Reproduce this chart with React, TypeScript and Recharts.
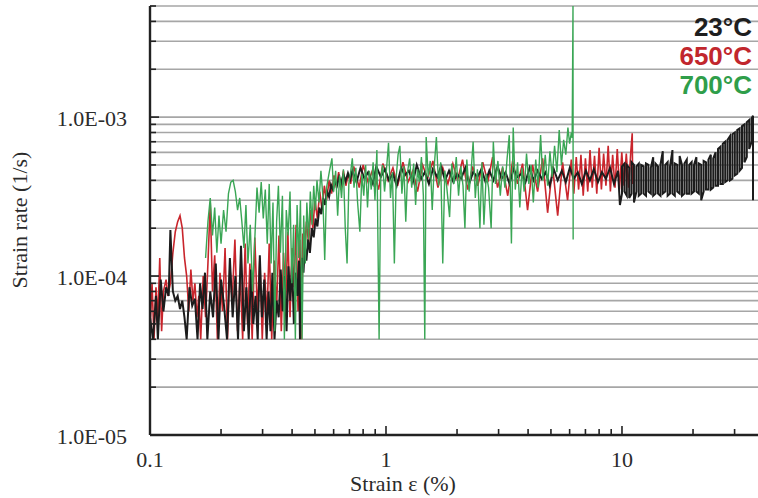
import React from "react";
import { LineChart, Line, XAxis, YAxis, CartesianGrid } from "recharts";

// strain in %, rate in units of 1e-4 1/s
const RATE_UNIT = 1e-4;

const xTicks = [0.1, 0.2, 0.3, 0.4, 0.5, 0.6, 0.7, 0.8, 0.9, 1, 2, 3, 4, 5, 6, 7, 8, 9, 10, 20, 30];
const xLabels: Record<string, string> = { "0.1": "0.1", "1": "1", "10": "10" };

const yTicks = [
  1e-5, 2e-5, 3e-5, 4e-5, 5e-5, 6e-5, 7e-5, 8e-5, 9e-5,
  1e-4, 2e-4, 3e-4, 4e-4, 5e-4, 6e-4, 7e-4, 8e-4, 9e-4,
  1e-3, 2e-3, 3e-3, 4e-3, 5e-3,
];
const yLabels: Record<string, string> = { "0.00001": "1.0E-05", "0.0001": "1.0E-04", "0.001": "1.0E-03" };

const legendItems = [
  { label: "23°C", color: "#1e1e1e" },
  { label: "650°C", color: "#c1272d" },
  { label: "700°C", color: "#2f9e4a" },
];

const rate650: [number, number][] = [
  [0.100, 0.45], [0.102, 0.90], [0.104, 0.40], [0.106, 0.85], [0.108, 0.55], [0.110, 1.30], [0.112, 0.45],
  [0.114, 0.80], [0.117, 0.95], [0.119, 0.75], [0.122, 0.90], [0.125, 1.40], [0.128, 1.90], [0.131, 2.20],
  [0.134, 2.40], [0.137, 2.00], [0.140, 1.30], [0.143, 1.00], [0.146, 0.60], [0.149, 1.10], [0.152, 0.70],
  [0.155, 0.90], [0.158, 0.55], [0.161, 0.75], [0.164, 0.40], [0.168, 1.00], [0.172, 0.55], [0.176, 1.20],
  [0.180, 2.90], [0.184, 0.80], [0.188, 1.35], [0.193, 0.40], [0.198, 1.05], [0.203, 0.60], [0.208, 1.50],
  [0.213, 0.40], [0.218, 1.15], [0.223, 0.70], [0.229, 1.70], [0.235, 0.45], [0.241, 1.00], [0.247, 0.40],
  [0.253, 1.60], [0.259, 0.50], [0.265, 1.20], [0.271, 0.40], [0.278, 1.75], [0.285, 0.60], [0.292, 1.30],
  [0.299, 0.40], [0.306, 1.05], [0.313, 0.55], [0.320, 1.60], [0.328, 0.40], [0.336, 1.25], [0.344, 0.65],
  [0.352, 1.80], [0.360, 0.45], [0.368, 1.40], [0.376, 0.70], [0.384, 1.90], [0.392, 0.55], [0.400, 1.50],
  [0.408, 0.85], [0.416, 2.10], [0.424, 0.60], [0.432, 1.70], [0.438, 0.40], [0.444, 1.85], [0.452, 1.40],
  [0.460, 2.20], [0.470, 1.60], [0.480, 2.60], [0.490, 2.00], [0.500, 3.00], [0.512, 2.30], [0.524, 3.40],
  [0.536, 2.60], [0.548, 3.70], [0.560, 3.00], [0.574, 4.00], [0.588, 3.30], [0.602, 4.30], [0.616, 3.60],
  [0.630, 4.50], [0.645, 3.50], [0.660, 4.60], [0.676, 3.70], [0.692, 4.40], [0.708, 3.80],
  [0.73, 4.9], [0.77, 3.6], [0.80, 5.0], [0.84, 3.9], [0.88, 4.7], [0.93, 3.5], [0.97, 5.1], [1.02, 4.0],
  [1.07, 4.8], [1.12, 3.7], [1.18, 5.2], [1.24, 3.9], [1.30, 4.6], [1.36, 3.4], [1.43, 5.0], [1.50, 4.1],
  [1.58, 5.3], [1.66, 3.6], [1.74, 4.8], [1.83, 3.8], [1.92, 5.1], [2.01, 4.0], [2.11, 5.4], [2.22, 3.5],
  [2.33, 4.9], [2.45, 3.7], [2.57, 5.2], [2.70, 3.9], [2.83, 5.6], [2.97, 3.6], [3.12, 4.8], [3.28, 3.2],
  [3.44, 5.3], [3.61, 3.8], [3.79, 5.1], [3.98, 2.6], [4.18, 5.0], [4.39, 3.4], [4.61, 5.5], [4.84, 2.5],
  [5.08, 4.9], [5.34, 2.4], [5.60, 5.2], [5.88, 3.0], [6.10, 5.4], [6.25, 3.3], [6.40, 5.6], [6.55, 3.5],
  [6.70, 5.8], [6.85, 3.2], [7.00, 5.5], [7.16, 3.4], [7.32, 6.2], [7.48, 3.6], [7.65, 5.7], [7.82, 3.3],
  [8.00, 6.4], [8.18, 3.5], [8.36, 5.9], [8.55, 3.7], [8.74, 6.6], [8.93, 3.4], [9.13, 5.8], [9.34, 3.6],
  [9.55, 6.3], [9.76, 3.5], [9.98, 6.0], [10.20, 3.7], [10.43, 5.9], [10.66, 3.6], [10.90, 6.1], [11.05, 7.9],
  [11.10, 3.8],
];

const rate23: [number, number][] = [
  [0.100, 0.55], [0.103, 0.40], [0.106, 0.75], [0.108, 0.40], [0.111, 0.95], [0.114, 0.60], [0.117, 0.85],
  [0.120, 0.75], [0.122, 1.95], [0.125, 0.80], [0.128, 0.70], [0.131, 0.75], [0.134, 0.62], [0.137, 0.70],
  [0.140, 0.55], [0.143, 0.40], [0.147, 0.85], [0.151, 0.65], [0.155, 0.72], [0.159, 0.40], [0.163, 0.90],
  [0.167, 0.62], [0.171, 1.05], [0.175, 0.40], [0.180, 0.80], [0.185, 0.55], [0.190, 1.20], [0.195, 0.40],
  [0.200, 0.95], [0.206, 0.65], [0.212, 0.40], [0.218, 1.30], [0.224, 0.55], [0.230, 1.00], [0.236, 0.40],
  [0.243, 1.55], [0.250, 0.45], [0.256, 0.85], [0.262, 0.40], [0.268, 1.10], [0.274, 0.50], [0.280, 0.75],
  [0.286, 0.40], [0.292, 1.35], [0.298, 0.55], [0.305, 0.95], [0.312, 0.40], [0.318, 0.80], [0.324, 0.45],
  [0.330, 1.05], [0.337, 0.40], [0.344, 0.70], [0.351, 0.55], [0.358, 1.10], [0.365, 0.60], [0.372, 1.00],
  [0.379, 0.45], [0.386, 1.15], [0.393, 0.70], [0.400, 1.20], [0.407, 0.50], [0.414, 1.05], [0.421, 0.75],
  [0.428, 1.25], [0.432, 0.40], [0.436, 1.10], [0.441, 1.30], [0.447, 1.05], [0.453, 1.55], [0.460, 1.25],
  [0.468, 1.70], [0.476, 1.40], [0.485, 2.00], [0.494, 1.75], [0.503, 2.30], [0.512, 2.05], [0.522, 2.70],
  [0.532, 2.45], [0.542, 3.10], [0.552, 2.80], [0.563, 3.40], [0.574, 3.15], [0.585, 3.75], [0.596, 3.50],
  [0.608, 3.95], [0.620, 3.70], [0.633, 4.20], [0.646, 3.85], [0.660, 4.35], [0.674, 3.95], [0.690, 4.45],
  [0.705, 4.05],
  [0.72, 4.6], [0.75, 3.9], [0.78, 4.8], [0.81, 4.1], [0.84, 4.5], [0.88, 3.8], [0.91, 4.9], [0.95, 4.2],
  [0.99, 4.7], [1.03, 4.0], [1.07, 4.4], [1.11, 3.7], [1.16, 4.8], [1.20, 4.3], [1.25, 4.6], [1.30, 3.9],
  [1.35, 5.0], [1.41, 4.1], [1.46, 4.5], [1.52, 3.8], [1.58, 4.7], [1.65, 4.2], [1.71, 4.9], [1.78, 4.0],
  [1.85, 4.6], [1.93, 3.9], [2.00, 4.4], [2.08, 4.1], [2.17, 4.8], [2.25, 3.8], [2.34, 4.5], [2.44, 4.2],
  [2.54, 4.7], [2.64, 3.9], [2.74, 4.6], [2.85, 4.0], [2.97, 4.9], [3.09, 4.1], [3.21, 4.5], [3.34, 3.8],
  [3.47, 4.7], [3.61, 4.2], [3.75, 4.4], [3.90, 3.9], [4.06, 4.8], [4.22, 4.0], [4.39, 4.6], [4.57, 4.1],
  [4.75, 4.5], [4.94, 3.7], [5.14, 4.7], [5.34, 4.0], [5.56, 4.6], [5.78, 3.9], [6.01, 4.8], [6.25, 4.1],
  [6.50, 4.5], [6.76, 3.8], [7.03, 4.6], [7.31, 4.0], [7.60, 4.7], [7.91, 3.9], [8.22, 4.5], [8.55, 4.1],
  [8.90, 4.8], [9.25, 3.8], [9.62, 4.6], [9.80, 2.8],
  [10.00, 3.3], [10.00, 4.9], [10.24, 5.1], [10.24, 3.4], [10.48, 3.2], [10.48, 5.0], [10.73, 4.8], [10.73, 3.1],
  [10.98, 3.3], [10.98, 5.2], [11.24, 5.0], [11.24, 2.9], [11.51, 3.4], [11.51, 4.9], [11.78, 5.1], [11.78, 3.2],
  [12.06, 3.3], [12.06, 5.0], [12.35, 4.9], [12.35, 3.3], [12.64, 3.2], [12.64, 5.1], [12.94, 5.0], [12.94, 3.4],
  [13.25, 3.3], [13.25, 4.8], [13.56, 5.6], [13.56, 3.2], [13.88, 3.3], [13.88, 5.1], [14.21, 4.9], [14.21, 3.3],
  [14.55, 3.2], [14.55, 5.0], [14.89, 6.1], [14.89, 3.3], [15.25, 3.4], [15.25, 5.0], [15.61, 5.2], [15.61, 3.2],
  [15.98, 3.3], [15.98, 4.9], [16.36, 6.2], [16.36, 3.3], [16.74, 3.2], [16.74, 5.1], [17.14, 5.0], [17.14, 3.4],
  [17.55, 3.3], [17.55, 5.7], [17.96, 5.0], [17.96, 3.2], [18.39, 3.3], [18.39, 5.1], [18.82, 5.4], [18.82, 3.3],
  [19.27, 3.3], [19.27, 5.0], [19.73, 5.2], [19.73, 3.3], [20.19, 3.4], [20.19, 5.0], [20.67, 5.6], [20.67, 3.4],
  [21.16, 3.3], [21.16, 5.1], [21.66, 5.0], [21.66, 3.0], [22.18, 3.4], [22.18, 5.3], [22.70, 5.2], [22.70, 3.5],
  [23.24, 3.5], [23.24, 5.4], [23.79, 5.8], [23.79, 3.5], [24.36, 3.6], [24.36, 5.5], [24.93, 6.0], [24.93, 3.7],
  [25.52, 3.7], [25.52, 6.3], [26.13, 6.5], [26.13, 3.8], [26.75, 3.8], [26.75, 6.8], [27.38, 7.0], [27.38, 3.9],
  [28.03, 4.0], [28.03, 7.2], [28.69, 7.6], [28.69, 4.0], [29.37, 4.1], [29.37, 7.8], [30.07, 8.0], [30.07, 4.3],
  [30.78, 4.4], [30.78, 8.3], [31.51, 8.5], [31.51, 4.6], [32.26, 4.8], [32.26, 8.8], [33.02, 9.0], [33.02, 5.2],
  [33.80, 5.6], [33.80, 9.3], [34.60, 9.6], [34.60, 6.3], [35.42, 7.0], [35.42, 9.8], [35.90, 10.2], [35.90, 3.0],
];

const rate700: [number, number][] = [
  [0.172, 1.30], [0.176, 2.20], [0.180, 3.10], [0.184, 1.80], [0.188, 2.70], [0.192, 1.40], [0.196, 2.40],
  [0.200, 1.60], [0.205, 2.60], [0.210, 1.90], [0.215, 3.30], [0.220, 3.90], [0.225, 4.00], [0.230, 3.40],
  [0.235, 2.60], [0.240, 3.10], [0.245, 2.20], [0.250, 1.50], [0.255, 2.80], [0.260, 1.20], [0.266, 2.10],
  [0.272, 0.80], [0.278, 1.70], [0.284, 3.60], [0.290, 2.50], [0.296, 3.90], [0.302, 2.30], [0.308, 3.50],
  [0.314, 1.60], [0.320, 3.80], [0.326, 1.20], [0.332, 2.90], [0.338, 0.45], [0.344, 2.20], [0.350, 3.70],
  [0.357, 1.40], [0.364, 3.20], [0.371, 0.40], [0.378, 2.60], [0.385, 1.80], [0.392, 3.40], [0.399, 0.90],
  [0.406, 2.10], [0.413, 0.40], [0.420, 2.80], [0.427, 1.30], [0.434, 3.00], [0.441, 0.40], [0.448, 2.40],
  [0.455, 1.20], [0.462, 2.90], [0.470, 1.70], [0.478, 3.40], [0.486, 2.10], [0.494, 3.70], [0.502, 2.60],
  [0.510, 4.00], [0.520, 2.90], [0.530, 4.60], [0.540, 3.20], [0.550, 1.26], [0.560, 3.60], [0.575, 4.50],
  [0.590, 5.50], [0.600, 3.40], [0.612, 4.60], [0.624, 2.40], [0.636, 4.30], [0.648, 3.10], [0.660, 4.70],
  [0.672, 2.00], [0.684, 1.20], [0.696, 3.80], [0.708, 4.50], [0.720, 5.50], [0.732, 3.60], [0.745, 4.80],
  [0.758, 2.90], [0.775, 1.90], [0.790, 4.40], [0.805, 3.20], [0.820, 5.00], [0.835, 2.70], [0.850, 4.60],
  [0.866, 3.50], [0.882, 5.20], [0.898, 3.00], [0.915, 6.20], [0.935, 0.40], [0.950, 4.10], [0.968, 5.00],
  [0.986, 3.40], [1.005, 4.70], [1.025, 6.90], [1.045, 3.10], [1.065, 4.50], [1.085, 1.20], [1.105, 4.20],
  [1.125, 5.80], [1.145, 6.60], [1.168, 3.30], [1.190, 4.90], [1.213, 2.20], [1.236, 4.60], [1.260, 5.50],
  [1.285, 3.60], [1.310, 5.10], [1.335, 2.80], [1.360, 4.70], [1.386, 3.90], [1.413, 5.60], [1.440, 3.20],
  [1.460, 0.40], [1.480, 7.50], [1.510, 4.20], [1.540, 5.30], [1.570, 2.60], [1.600, 4.80], [1.635, 7.50],
  [1.670, 3.70], [1.705, 5.20], [1.740, 1.20], [1.775, 4.60], [1.810, 3.60], [1.860, 2.35], [1.900, 5.10],
  [1.940, 3.80], [1.985, 5.60], [2.030, 3.20], [2.075, 4.90], [2.120, 3.70], [2.160, 2.00], [2.200, 5.40],
  [2.250, 3.40], [2.295, 4.60], [2.340, 7.00], [2.390, 3.10], [2.440, 4.70], [2.500, 2.00], [2.550, 5.20],
  [2.600, 2.10], [2.660, 4.40], [2.720, 3.60], [2.790, 2.00], [2.850, 7.00], [2.910, 3.80], [2.980, 5.30],
  [3.050, 3.20], [3.120, 4.90], [3.190, 3.60], [3.260, 5.50], [3.330, 7.70], [3.400, 1.60], [3.460, 8.60],
  [3.530, 3.50], [3.610, 5.20], [3.690, 2.70], [3.770, 4.80], [3.850, 3.40], [3.940, 5.90], [4.030, 3.80],
  [4.120, 5.00], [4.210, 2.90], [4.310, 5.40], [4.410, 3.60], [4.520, 7.70], [4.620, 4.00], [4.730, 5.80],
  [4.840, 3.70], [4.950, 6.10], [5.060, 4.20], [5.180, 6.60], [5.300, 4.50], [5.420, 8.30], [5.540, 5.00],
  [5.660, 7.20], [5.780, 5.80], [5.900, 8.60], [6.000, 6.80], [6.100, 8.00], [6.150, 7.40], [6.200, 50.0],
  [6.210, 1.70],
];

const toPoints = (rows: [number, number][]) => rows.map(([x, r]) => ({ x, y: r * RATE_UNIT }));

const serif = "'Liberation Serif', 'Times New Roman', serif";

const YTick = ({ x, y, payload }: any) => {
  const label = yLabels[String(payload.value)];
  return (
    <g>
      <line x1={x} x2={x + (label ? 9 : 6)} y1={y} y2={y} stroke="#222" strokeWidth={1.6} />
      {label && (
        <text x={x - 23} y={y + 9} textAnchor="end" fontSize={22} fontFamily={serif} fill="#2b2b2b">
          {label}
        </text>
      )}
    </g>
  );
};

const XTick = ({ x, y, payload }: any) => {
  const label = xLabels[String(payload.value)];
  return (
    <g>
      <line x1={x} x2={x} y1={y} y2={y - (label ? 9 : 6)} stroke="#222" strokeWidth={1.6} />
      {label && (
        <text x={x} y={y + 32} textAnchor="middle" fontSize={22} fontFamily={serif} fill="#2b2b2b">
          {label}
        </text>
      )}
    </g>
  );
};

export default function App() {
  return (
    <div style={{ position: "absolute", left: 0, top: 0, width: 758, height: 498, background: "#fff" }}>
      <LineChart width={758} height={498} margin={{ top: 6, right: 0, bottom: 0, left: 0 }}>
        <CartesianGrid vertical={false} stroke="#a6a6a6" strokeWidth={1.6} />
        <XAxis
          type="number"
          dataKey="x"
          scale="log"
          domain={[0.1, 37.7]}
          allowDataOverflow
          ticks={xTicks}
          interval={0}
          height={63}
          tickSize={0}
          tickMargin={0}
          tickLine={false}
          tick={<XTick />}
          axisLine={{ stroke: "#222", strokeWidth: 2.4 }}
        />
        <YAxis
          type="number"
          scale="log"
          domain={[1e-5, 5e-3]}
          allowDataOverflow
          ticks={yTicks}
          interval={0}
          width={150}
          tickSize={0}
          tickMargin={0}
          tickLine={false}
          tick={<YTick />}
          axisLine={{ stroke: "#222", strokeWidth: 2.4 }}
        />
        <Line data={toPoints(rate650)} dataKey="y" stroke="#c9252c" strokeWidth={1.6} dot={false} isAnimationActive={false} />
        <Line data={toPoints(rate23)} dataKey="y" stroke="#1c1c1c" strokeWidth={2} dot={false} isAnimationActive={false} />
        <Line data={toPoints(rate700)} dataKey="y" stroke="#3aa655" strokeWidth={1.4} dot={false} isAnimationActive={false} />
      </LineChart>

      <div
        style={{
          position: "absolute", left: 20, top: 220, transform: "translate(-50%, -50%) rotate(-90deg)",
          whiteSpace: "nowrap", fontFamily: serif, fontSize: 22, lineHeight: "22px", color: "#2b2b2b",
        }}
      >
        Strain rate (1/s)
      </div>
      <div
        style={{
          position: "absolute", left: 403, top: 474, transform: "translateX(-50%)",
          whiteSpace: "nowrap", fontFamily: serif, fontSize: 22, lineHeight: "20px", color: "#2b2b2b",
        }}
      >
        Strain ε (%)
      </div>
      <div
        style={{
          position: "absolute", right: 6, top: 13, textAlign: "right",
          fontFamily: "'Liberation Sans', Arial, sans-serif", fontWeight: 700, fontSize: 26, lineHeight: "29px",
        }}
      >
        {legendItems.map((it) => (
          <div key={it.label} style={{ color: it.color }}>{it.label}</div>
        ))}
      </div>
    </div>
  );
}
